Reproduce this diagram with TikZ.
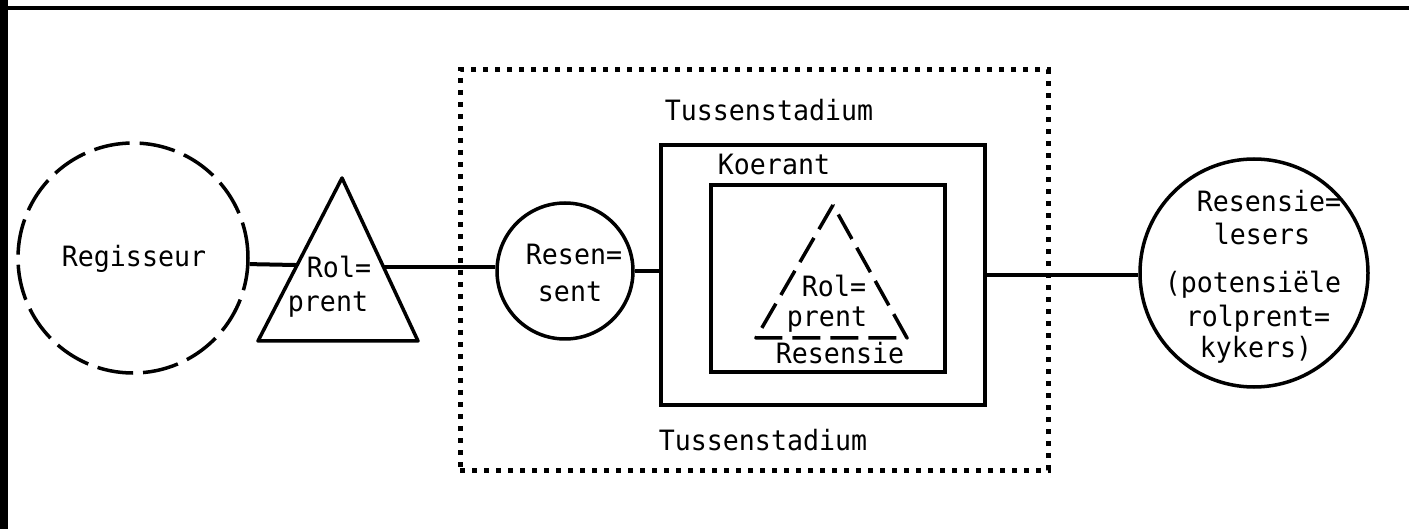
\documentclass[tikz,border=0pt]{standalone}
\usepackage{fontspec}
\newfontfamily\twfont[FakeStretch=0.95]{DejaVu Sans Mono}
\usetikzlibrary{calc}
\begin{document}
\begin{tikzpicture}[x=1pt,y=-1pt,
  lbl/.style={font=\twfont\fontsize{28}{32}\selectfont, inner sep=0pt, anchor=base},
  ln/.style={line width=4pt},
  shp/.style={draw, line width=3.5pt, inner sep=0pt},
  boxs/.style={draw, line width=4pt, inner sep=0pt},
  longdash/.style={dash pattern=on 36pt off 10pt},
  tridash/.style={line width=3.5pt, dash pattern=on 28pt off 10pt, line join=round},
  dotbox/.style={draw, line width=5pt, dash pattern=on 5pt off 7pt, inner sep=0pt},
  tri/.style={line width=3.5pt, line join=round}
]
\useasboundingbox (0,0) rectangle (1409,529);
% page borders
\draw[line width=4.5pt] (0,8) -- (1409,8);
\draw[line width=8pt] (4,0) -- (4,529);

% Regisseur
\node[shp, circle, longdash, minimum size=230pt] (reg) at (133,258) {};
\node[lbl] (regt) at (134,267) {Regisseur};

% first triangle
\coordinate (t1a) at (342,178);
\coordinate (t1l) at (258,341);
\coordinate (t1r) at (418,341);
\draw[tri] (t1a) -- (t1l) -- (t1r) -- cycle;
\node[lbl] (t1t1) at (339,278) {Rol=};
\node[lbl] (t1t2) at (328,312) {prent};

% dotted Tussenstadium box
\node[dotbox, minimum width=588pt, minimum height=400pt] (tuss) at (754,270) {};
\node[lbl] (tusst) at (769,121) {Tussenstadium};
\node[lbl] (tussb) at (763,450) {Tussenstadium};

% Resensent
\node[shp, circle, minimum size=136pt] (resent) at (565,271) {};
\node[lbl] (rest1) at (574,265) {Resen=};
\node[lbl] (rest2) at (570,302) {sent};

% Koerant box
\node[boxs, minimum width=324pt, minimum height=260pt] (koer) at (823,275) {};
\node[lbl] (koert) at (774,175) {Koerant};

% Resensie box
\node[boxs, minimum width=234pt, minimum height=187pt] (resbox) at (828,279) {};
\coordinate (t2a) at (833,205);
\coordinate (t2l) at (756,338);
\coordinate (t2r) at (907,338);
\draw[tridash] (t2a) -- (t2l) -- (t2r) -- cycle;
\node[lbl] (t2t1) at (834,297) {Rol=};
\node[lbl] (t2t2) at (827,327) {prent};
\node[lbl] (t2t3) at (840,363) {Resensie};

% Resensielesers
\node[shp, circle, minimum size=228pt] (lesers) at (1254,273) {};
\node[lbl] (les1) at (1269,212) {Resensie=};
\node[lbl] (les2) at (1262,245) {lesers};
\node[lbl] (les3) at (1253,293) {(potensiële};
\node[lbl] (les4) at (1258,327) {rolprent=};
\node[lbl] (les5) at (1256,358) {kykers)};

% connectors
\coordinate (c1) at ($(t1l)!0.466!(t1a)$);
\coordinate (c2) at ($(t1r)!0.454!(t1a)$);
\draw[ln] (reg.-3.5) -- (c1);
\draw[ln] (c2) -- (c2 -| resent.west);
\draw[ln] (resent.east) -- (resent.east -| koer.west);
\draw[ln] (koer.east) -- (koer.east -| lesers.west);
\end{tikzpicture}
\end{document}
